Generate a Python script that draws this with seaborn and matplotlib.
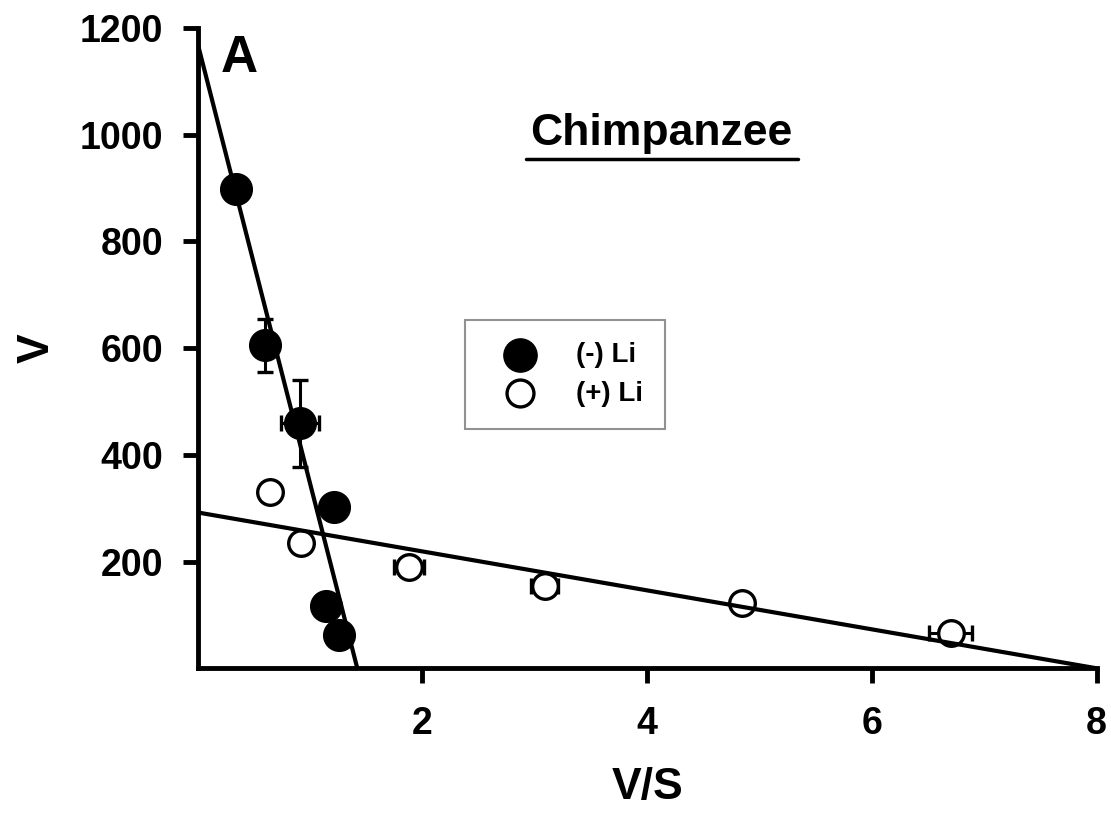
import matplotlib
matplotlib.use("Agg")
import matplotlib.pyplot as plt
import seaborn as sns
import numpy as np
import pandas as pd

# ---- data ----
minus_x = [0.34, 0.60, 0.91, 1.21, 1.14, 1.26]
minus_y = [898, 605, 459, 303, 116, 62]
minus_xerr = [0, 0, 0.17, 0, 0, 0]
minus_yerr = [0, 50, 81, 0, 0, 0]

plus_x = [0.64, 0.92, 1.88, 3.09, 4.84, 6.70]
plus_y = [330, 234, 189, 154, 122, 66]
plus_xerr = [0, 0, 0.13, 0.12, 0, 0.19]
plus_yerr = [0, 0, 0, 0, 0, 0]

# fitted lines (Eadie-Hofstee): y-intercept (Vmax) and x-intercept (Vmax/Km)
fit_minus = (1170, 1.42)
fit_plus = (292, 8.0)

x_ticks = [2, 4, 6, 8]
y_ticks = [200, 400, 600, 800, 1000, 1200]

sns.set_theme(style="ticks")
plt.rcParams['font.family'] = ['Liberation Sans', 'DejaVu Sans']
plt.rcParams['font.weight'] = 'bold'
plt.rcParams['text.color'] = 'black'
plt.rcParams['axes.labelcolor'] = 'black'
plt.rcParams['xtick.color'] = 'black'
plt.rcParams['ytick.color'] = 'black'

fig = plt.figure(figsize=(11.11, 8.21), dpi=100)
ax = fig.add_axes([0.178, 0.186, 0.809, 0.780])

# fit lines
for (b, xi) in [fit_minus, fit_plus]:
    xs = np.array([0, xi])
    ax.plot(xs, b - b / xi * xs, color='black', lw=3.0, zorder=4.5, solid_capstyle='butt')

df_m = pd.DataFrame({'x': minus_x, 'y': minus_y})
df_p = pd.DataFrame({'x': plus_x, 'y': plus_y})
sns.scatterplot(data=df_m, x='x', y='y', ax=ax, s=520, color='black',
                edgecolor='black', linewidth=1, zorder=4, label='(-) Li')
sns.scatterplot(data=df_p, x='x', y='y', ax=ax, s=340, color='white',
                edgecolor='black', linewidth=2.4, zorder=4, label='(+) Li')


def draw_err(xs, ys, xe, ye, z):
    for x, y, ex, ey in zip(xs, ys, xe, ye):
        if ex > 0:
            ax.errorbar([x], [y], xerr=[ex], fmt='none', ecolor='black',
                        elinewidth=2.2, capsize=6, capthick=2.4, zorder=z)
        if ey > 0:
            ax.errorbar([x], [y], yerr=[ey], fmt='none', ecolor='black',
                        elinewidth=2.2, capsize=6, capthick=2.4, zorder=z)


draw_err(minus_x, minus_y, minus_xerr, minus_yerr, 3)
draw_err(plus_x, plus_y, plus_xerr, plus_yerr, 3)

ax.set_xlim(0, 8)
ax.set_ylim(0, 1200)
ax.set_xticks(x_ticks)
ax.set_yticks(y_ticks)
ax.tick_params(axis='both', which='major', labelsize=27, length=11, width=3.5,
               direction='out', color='black', left=True, bottom=True)
ax.tick_params(axis='y', pad=14)
ax.tick_params(axis='x', pad=16)
for lab in ax.get_xticklabels() + ax.get_yticklabels():
    lab.set_fontweight('bold')

for s in ['top', 'right']:
    ax.spines[s].set_visible(False)
for s in ['left', 'bottom']:
    ax.spines[s].set_linewidth(3.5)
    ax.spines[s].set_color('black')

ax.set_xlabel('V/S', fontsize=32, fontweight='bold', labelpad=18)
ax.set_ylabel('V', fontsize=32, fontweight='bold', labelpad=16)

ax.text(0.026, 0.99, 'A', transform=ax.transAxes, fontsize=37, fontweight='bold',
        va='top', ha='left')
ax.text(0.516, 0.835, 'Chimpanzee', transform=ax.transAxes, fontsize=32,
        fontweight='bold', ha='center', va='center')
ax.plot([0.365, 0.668], [0.796, 0.796], transform=ax.transAxes, color='black', lw=2.5)

leg = ax.legend(loc='upper left', bbox_to_anchor=(0.297, 0.544), frameon=True,
                fancybox=False, prop={'size': 20, 'weight': 'bold'},
                markerscale=1.05, borderpad=0.8, labelspacing=0.45, handletextpad=0.8,
                borderaxespad=0, handlelength=2.4)
leg.get_frame().set_edgecolor('#777777')
leg.get_frame().set_linewidth(1.5)

fig.savefig('out.png', dpi=100)
